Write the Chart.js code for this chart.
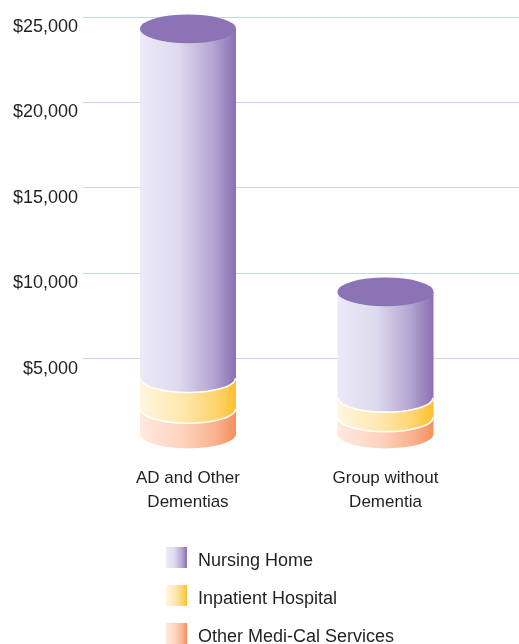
<!DOCTYPE html>
<html>
<head>
<meta charset="utf-8">
<script src="https://cdn.jsdelivr.net/npm/chart.js@4"></script>
<style>
  html, body { margin: 0; padding: 0; background: #ffffff; }
  #wrap { position: relative; width: 519px; height: 644px; overflow: hidden; }
  #c { position: absolute; left: 0; top: 0; }
  .lg { position: absolute; left: 166px; height: 21px; font-family: "Liberation Sans", Arial, sans-serif; font-size: 18px; color: #231f20; line-height: 21px; white-space: nowrap; }
  .sw { position: absolute; left: 0; top: 0; width: 21px; height: 21px; }
  .lt { position: absolute; left: 32px; top: 3px; }
</style>
</head>
<body>
<div id="wrap">
  <canvas id="c" width="519" height="644"></canvas>
  <div id="legend"></div>
</div>
<script>
// ---- data ----
const categories = [["AD and Other", "Dementias"], ["Group without", "Dementia"]];
const seriesNames = ["Other Medi-Cal Services", "Inpatient Hospital", "Nursing Home"];
const otherMediCal = [1500, 1000];
const inpatientHospital = [1800, 1150];
const nursingHome = [20450, 6200];
const yTicks = [0, 5000, 10000, 15000, 20000, 25000];
const yTickLabels = ["", "$5,000", "$10,000", "$15,000", "$20,000", "$25,000"];
const legendOrder = ["Nursing Home", "Inpatient Hospital", "Other Medi-Cal Services"];

// ---- styles ----
const gradStops = {
  "Other Medi-Cal Services": [[0, "#ffe9de"], [0.45, "#fdd3bd"], [0.8, "#f9b08c"], [1, "#f58f5c"]],
  "Inpatient Hospital": [[0, "#fff6de"], [0.45, "#ffe7ae"], [0.8, "#ffd36d"], [1, "#fdbf2c"]],
  "Nursing Home": [[0, "#eceaf7"], [0.4, "#dedaee"], [0.75, "#b6a7d3"], [1, "#8a6fb4"]]
};
const topFace = "#8b73b6";

const seriesValues = [otherMediCal, inpatientHospital, nursingHome];

const cylinderPlugin = {
  id: "cylinders",
  afterDatasetsDraw(chart) {
    const ctx = chart.ctx;
    const nSets = chart.data.datasets.length;
    const nCats = categories.length;
    ctx.save();
    for (let i = 0; i < nCats; i++) {
      for (let d = 0; d < nSets; d++) {
        const el = chart.getDatasetMeta(d).data[i];
        const p = el.getProps(["x", "y", "base", "width"], true);
        const rx = p.width / 2, ry = rx * 0.3, off = ry * 0.66;
        const top = p.y - off, bot = p.base - off;
        const g = ctx.createLinearGradient(p.x - rx, 0, p.x + rx, 0);
        gradStops[chart.data.datasets[d].label].forEach(s => g.addColorStop(s[0], s[1]));
        ctx.beginPath();
        ctx.moveTo(p.x - rx, top);
        ctx.lineTo(p.x - rx, bot);
        ctx.ellipse(p.x, bot, rx, ry, 0, Math.PI, 0, true);
        ctx.lineTo(p.x + rx, top);
        ctx.closePath();
        ctx.fillStyle = g;
        ctx.fill();
        if (d > 0) {
          ctx.beginPath();
          ctx.ellipse(p.x, bot, rx - 0.5, ry, 0, Math.PI, 0, true);
          ctx.strokeStyle = "#ffffff";
          ctx.lineWidth = 1.6;
          ctx.stroke();
        }
        if (d === nSets - 1) {
          ctx.beginPath();
          ctx.ellipse(p.x, top, rx, ry, 0, 0, Math.PI * 2);
          ctx.fillStyle = topFace;
          ctx.fill();
        }
      }
    }
    ctx.restore();
  }
};

const datasets = seriesNames.map((name, k) => ({
  label: name,
  data: seriesValues[k].map((v, i) => ({ x: i, y: v })),
  backgroundColor: "rgba(0,0,0,0)",
  borderWidth: 0,
  barThickness: 96
}));

new Chart(document.getElementById("c"), {
  type: "bar",
  data: { datasets },
  plugins: [cylinderPlugin],
  options: {
    responsive: false,
    animation: false,
    layout: { padding: { top: 17, bottom: 100, left: 0, right: 0 } },
    plugins: { legend: { display: false }, tooltip: { enabled: false } },
    scales: {
      x: {
        type: "linear",
        stacked: true,
        offset: false,
        min: -0.5316,
        max: 1.676,
        grid: { display: false, offset: false },
        border: { display: false },
        afterBuildTicks: s => { s.ticks = categories.map((c, i) => ({ value: i })); },
        afterFit: s => { s.height = 100; },
        ticks: {
          autoSkip: false,
          maxRotation: 0,
          padding: 14,
          color: "#231f20",
          font: { family: "'Liberation Sans', Arial, sans-serif", size: 17, lineHeight: 1.41 },
          callback: (v, i) => categories[i]
        }
      },
      y: {
        stacked: true,
        min: 0,
        max: 25000,
        afterBuildTicks: s => { s.ticks = yTicks.map(v => ({ value: v })); },
        afterFit: s => { s.width = 83; },
        grid: {
          drawTicks: false,
          lineWidth: 1,
          color: c => (c.tick && c.tick.value === 0) ? "rgba(0,0,0,0)" : "#c0d9ef"
        },
        border: { display: false },
        ticks: {
          padding: 5,
          labelOffset: 10,
          color: "#231f20",
          font: { family: "'Liberation Sans', Arial, sans-serif", size: 18 },
          callback: (v, i) => yTickLabels[yTicks.indexOf(v)]
        }
      }
    }
  }
});

// HTML legend
const legendEl = document.getElementById("legend");
legendOrder.forEach((name, r) => {
  const row = document.createElement("div");
  row.className = "lg";
  row.style.top = (547 + r * 38) + "px";
  const sw = document.createElement("div");
  sw.className = "sw";
  sw.style.background = "linear-gradient(to right, " + gradStops[name].map(s => s[1] + " " + (s[0] * 100) + "%").join(", ") + ")";
  const t = document.createElement("span");
  t.className = "lt";
  t.textContent = name;
  row.appendChild(sw);
  row.appendChild(t);
  legendEl.appendChild(row);
});
</script>
</body>
</html>
